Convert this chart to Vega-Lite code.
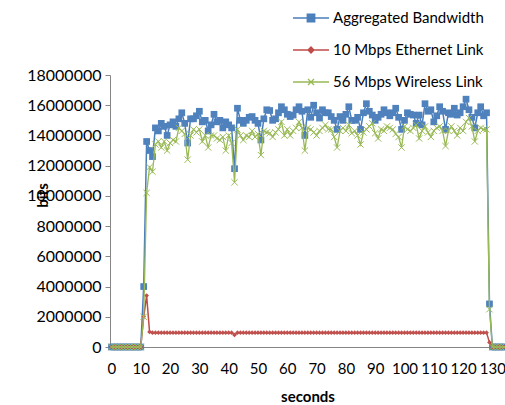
{
 "$schema": "https://vega.github.io/schema/vega-lite/v6.json",
 "width": 395, "height": 272,
 "autosize": {"type": "none"},
 "padding": {"left": 110, "top": 75, "right": 0, "bottom": 58},
 "background": "white",
 "config": {"view": {"stroke": null}, "font": "Lato"},
 "data": {"values": [
  {"s":0,"a":0,"e":0,"w":0},{"s":1,"a":0,"e":0,"w":0},{"s":2,"a":0,"e":0,"w":0},{"s":3,"a":0,"e":0,"w":0},{"s":4,"a":0,"e":0,"w":0},
  {"s":5,"a":0,"e":0,"w":0},{"s":6,"a":0,"e":0,"w":0},{"s":7,"a":0,"e":0,"w":0},{"s":8,"a":0,"e":0,"w":0},{"s":9,"a":0,"e":0,"w":0},
  {"s":10,"a":0,"e":0,"w":0},
  {"s":11,"a":4000000,"e":2000000,"w":2000000},
  {"s":12,"a":13600000,"e":3400000,"w":10200000},
  {"s":13,"a":13000000,"e":1000000,"w":11900000},
  {"s":14,"a":12600000,"e":950000,"w":11600000},
  {"s":15,"a":14500000,"e":950000,"w":13400000},
  {"s":16,"a":14300000,"e":950000,"w":13600000},
  {"s":17,"a":14800000,"e":950000,"w":13200000},
  {"s":18,"a":14600000,"e":950000,"w":13600000},
  {"s":19,"a":14000000,"e":950000,"w":13000000},
  {"s":20,"a":14700000,"e":950000,"w":13500000},
  {"s":21,"a":14900000,"e":950000,"w":13700000},
  {"s":22,"a":14600000,"e":950000,"w":13600000},
  {"s":23,"a":15100000,"e":950000,"w":14500000},
  {"s":24,"a":15500000,"e":950000,"w":14300000},
  {"s":25,"a":14800000,"e":950000,"w":14100000},
  {"s":26,"a":13500000,"e":950000,"w":12400000},
  {"s":27,"a":15100000,"e":950000,"w":14000000},
  {"s":28,"a":15100000,"e":950000,"w":14400000},
  {"s":29,"a":15300000,"e":950000,"w":14200000},
  {"s":30,"a":15600000,"e":950000,"w":14400000},
  {"s":31,"a":14900000,"e":950000,"w":13600000},
  {"s":32,"a":15000000,"e":950000,"w":14000000},
  {"s":33,"a":14300000,"e":950000,"w":13200000},
  {"s":34,"a":14700000,"e":950000,"w":14000000},
  {"s":35,"a":15400000,"e":950000,"w":14000000},
  {"s":36,"a":14900000,"e":950000,"w":13800000},
  {"s":37,"a":15000000,"e":950000,"w":13700000},
  {"s":38,"a":14500000,"e":950000,"w":13900000},
  {"s":39,"a":14900000,"e":950000,"w":13000000},
  {"s":40,"a":14700000,"e":950000,"w":14000000},
  {"s":41,"a":14500000,"e":950000,"w":13500000},
  {"s":42,"a":11800000,"e":800000,"w":10900000},
  {"s":43,"a":15800000,"e":950000,"w":14400000},
  {"s":44,"a":15000000,"e":950000,"w":14000000},
  {"s":45,"a":14800000,"e":950000,"w":13700000},
  {"s":46,"a":15000000,"e":950000,"w":14000000},
  {"s":47,"a":15200000,"e":950000,"w":13900000},
  {"s":48,"a":15250000,"e":950000,"w":14300000},
  {"s":49,"a":15000000,"e":950000,"w":13900000},
  {"s":50,"a":14800000,"e":950000,"w":14100000},
  {"s":51,"a":13700000,"e":950000,"w":12700000},
  {"s":52,"a":15100000,"e":950000,"w":14300000},
  {"s":53,"a":15700000,"e":950000,"w":14200000},
  {"s":54,"a":15650000,"e":950000,"w":14150000},
  {"s":55,"a":15000000,"e":950000,"w":13900000},
  {"s":56,"a":15100000,"e":950000,"w":14200000},
  {"s":57,"a":15500000,"e":950000,"w":14400000},
  {"s":58,"a":15900000,"e":950000,"w":14900000},
  {"s":59,"a":15700000,"e":950000,"w":14000000},
  {"s":60,"a":15400000,"e":950000,"w":14400000},
  {"s":61,"a":15250000,"e":950000,"w":14000000},
  {"s":62,"a":15350000,"e":950000,"w":14300000},
  {"s":63,"a":15700000,"e":950000,"w":14500000},
  {"s":64,"a":15900000,"e":950000,"w":14900000},
  {"s":65,"a":15600000,"e":950000,"w":14500000},
  {"s":66,"a":14000000,"e":950000,"w":13000000},
  {"s":67,"a":15700000,"e":950000,"w":14500000},
  {"s":68,"a":15200000,"e":950000,"w":14400000},
  {"s":69,"a":16000000,"e":950000,"w":14200000},
  {"s":70,"a":15500000,"e":950000,"w":14000000},
  {"s":71,"a":15150000,"e":950000,"w":14300000},
  {"s":72,"a":15700000,"e":950000,"w":14500000},
  {"s":73,"a":15500000,"e":950000,"w":14700000},
  {"s":74,"a":15500000,"e":950000,"w":14400000},
  {"s":75,"a":15250000,"e":950000,"w":14400000},
  {"s":76,"a":15000000,"e":950000,"w":13900000},
  {"s":77,"a":14400000,"e":950000,"w":13200000},
  {"s":78,"a":15250000,"e":950000,"w":14300000},
  {"s":79,"a":15000000,"e":950000,"w":14500000},
  {"s":80,"a":15400000,"e":950000,"w":14300000},
  {"s":81,"a":15900000,"e":950000,"w":14700000},
  {"s":82,"a":15000000,"e":950000,"w":14150000},
  {"s":83,"a":15000000,"e":950000,"w":14300000},
  {"s":84,"a":15200000,"e":950000,"w":14000000},
  {"s":85,"a":14400000,"e":950000,"w":13400000},
  {"s":86,"a":15500000,"e":950000,"w":14200000},
  {"s":87,"a":16100000,"e":950000,"w":14400000},
  {"s":88,"a":15600000,"e":950000,"w":14600000},
  {"s":89,"a":15350000,"e":950000,"w":14800000},
  {"s":90,"a":15000000,"e":950000,"w":14150000},
  {"s":91,"a":15200000,"e":950000,"w":13800000},
  {"s":92,"a":15400000,"e":950000,"w":14400000},
  {"s":93,"a":15700000,"e":950000,"w":14300000},
  {"s":94,"a":15500000,"e":950000,"w":14600000},
  {"s":95,"a":15300000,"e":950000,"w":14500000},
  {"s":96,"a":15500000,"e":950000,"w":14400000},
  {"s":97,"a":15800000,"e":950000,"w":14100000},
  {"s":98,"a":15200000,"e":950000,"w":13900000},
  {"s":99,"a":14400000,"e":950000,"w":13200000},
  {"s":100,"a":15000000,"e":950000,"w":14600000},
  {"s":101,"a":15500000,"e":950000,"w":14400000},
  {"s":102,"a":15400000,"e":950000,"w":14300000},
  {"s":103,"a":15350000,"e":950000,"w":14500000},
  {"s":104,"a":14800000,"e":950000,"w":14700000},
  {"s":105,"a":15350000,"e":950000,"w":13800000},
  {"s":106,"a":14700000,"e":950000,"w":14300000},
  {"s":107,"a":16100000,"e":950000,"w":14600000},
  {"s":108,"a":15600000,"e":950000,"w":14200000},
  {"s":109,"a":15700000,"e":950000,"w":13900000},
  {"s":110,"a":14900000,"e":950000,"w":14300000},
  {"s":111,"a":15300000,"e":950000,"w":14500000},
  {"s":112,"a":15900000,"e":950000,"w":14600000},
  {"s":113,"a":15600000,"e":950000,"w":14300000},
  {"s":114,"a":14400000,"e":950000,"w":13300000},
  {"s":115,"a":15500000,"e":950000,"w":14300000},
  {"s":116,"a":15400000,"e":950000,"w":14600000},
  {"s":117,"a":15800000,"e":950000,"w":14300000},
  {"s":118,"a":15350000,"e":950000,"w":14000000},
  {"s":119,"a":15500000,"e":950000,"w":14500000},
  {"s":120,"a":15900000,"e":950000,"w":14300000},
  {"s":121,"a":16400000,"e":950000,"w":14900000},
  {"s":122,"a":15700000,"e":950000,"w":15150000},
  {"s":123,"a":15200000,"e":950000,"w":14600000},
  {"s":124,"a":14500000,"e":950000,"w":13600000},
  {"s":125,"a":15500000,"e":950000,"w":14300000},
  {"s":126,"a":15900000,"e":950000,"w":14500000},
  {"s":127,"a":15300000,"e":950000,"w":14400000},
  {"s":128,"a":15500000,"e":950000,"w":14400000},
  {"s":129,"a":2850000,"e":300000,"w":2500000},
  {"s":130,"a":0,"e":0,"w":0},{"s":131,"a":0,"e":0,"w":0},{"s":132,"a":0,"e":0,"w":0},{"s":133,"a":0,"e":0,"w":0},{"s":134,"a":0,"e":0,"w":0}
 ]},
 "transform": [{"fold": ["a", "e", "w"], "as": ["k", "v"]}],
 "encoding": {
  "x": {"field": "s", "type": "quantitative",
   "scale": {"domain": [-0.5, 134.3], "nice": false, "zero": false},
   "axis": {"title": "seconds", "values": [0,10,20,30,40,50,60,70,80,90,100,110,120,130], "format": "d",
    "grid": false, "ticks": false, "tickSize": 0, "domainColor": "#868686", "domainWidth": 1,
    "labelFont": "Lato", "labelFontSize": 15, "labelColor": "#000", "labelPadding": 14, "labelFlush": false, "labelOverlap": false,
    "titleFont": "Lato", "titleFontSize": 15, "titleFontWeight": "bold", "titleColor": "#000", "titleY": 49, "titleBaseline": "middle"}},
  "y": {"field": "v", "type": "quantitative",
   "scale": {"domain": [0, 18000000], "nice": false},
   "axis": {"title": "bits", "values": [0,2000000,4000000,6000000,8000000,10000000,12000000,14000000,16000000,18000000], "format": "d",
    "grid": false, "tickSize": 5, "tickColor": "#868686", "domainColor": "#868686", "domainWidth": 1,
    "labelFont": "Lato", "labelFontSize": 16, "labelColor": "#000", "labelPadding": 4,
    "titleFont": "Lato", "titleFontSize": 15, "titleFontWeight": "bold", "titleColor": "#000",
    "titleX": -68, "titleY": 120, "titleAngle": -90, "titleBaseline": "middle", "titleAlign": "center"}}
 },
 "layer": [
  {"transform": [{"filter": "datum.k === 'a'"}],
   "mark": {"type": "line", "strokeWidth": 1.5},
   "encoding": {"color": {"datum": "Aggregated Bandwidth", "type": "nominal",
     "scale": {"domain": ["Aggregated Bandwidth", "10 Mbps Ethernet Link", "56 Mbps Wireless Link"], "range": ["#4A7EBB", "#BE4B48", "#98B954"]},
     "legend": {"orient": "none", "legendX": 185, "legendY": -73, "title": null, "direction": "vertical",
      "labelFont": "Lato", "labelFontSize": 15, "labelColor": "#000", "labelOffset": 6,
      "symbolSize": 900, "rowPadding": 8, "symbolType": "M-1.2,0H1.2",
      "encode": {"symbols": {"update": {
        "shape": {"signal": "datum.value === 'Aggregated Bandwidth' ? 'M-1.2,0H1.2M-0.25,-0.25H0.25V0.25H-0.25Z' : datum.value === '10 Mbps Ethernet Link' ? 'M-1.2,0H1.2M0,-0.2L0.2,0L0,0.2L-0.2,0Z' : 'M-1.2,0H1.2M-0.2,-0.2L0.2,0.2M-0.2,0.2L0.2,-0.2'"},
        "fill": {"signal": "datum.value === 'Aggregated Bandwidth' ? '#4F81BD' : datum.value === '10 Mbps Ethernet Link' ? '#C0504D' : 'transparent'"},
        "stroke": {"signal": "datum.value === 'Aggregated Bandwidth' ? '#4A7EBB' : datum.value === '10 Mbps Ethernet Link' ? '#BE4B48' : '#98B954'"},
        "strokeWidth": {"value": 1.3}, "opacity": {"value": 1}, "fillOpacity": {"value": 1}, "strokeOpacity": {"value": 1}}}}}}}},
  {"transform": [{"filter": "datum.k === 'a'"}],
   "mark": {"type": "point", "shape": "square", "filled": true, "size": 45, "color": "#4F81BD", "opacity": 1}},
  {"transform": [{"filter": "datum.k === 'e'"}],
   "mark": {"type": "line", "strokeWidth": 1.5},
   "encoding": {"color": {"datum": "10 Mbps Ethernet Link", "type": "nominal"}}},
  {"transform": [{"filter": "datum.k === 'e'"}],
   "mark": {"type": "point", "shape": "diamond", "filled": true, "size": 22, "color": "#C0504D", "opacity": 1}},
  {"transform": [{"filter": "datum.k === 'w'"}],
   "mark": {"type": "line", "strokeWidth": 1.3},
   "encoding": {"color": {"datum": "56 Mbps Wireless Link", "type": "nominal"}}},
  {"transform": [{"filter": "datum.k === 'w'"}],
   "mark": {"type": "point", "shape": "M-1,-1L1,1M-1,1L1,-1", "filled": false, "size": 40, "color": "#9BBB59", "strokeWidth": 1, "opacity": 1}}
 ]
}
